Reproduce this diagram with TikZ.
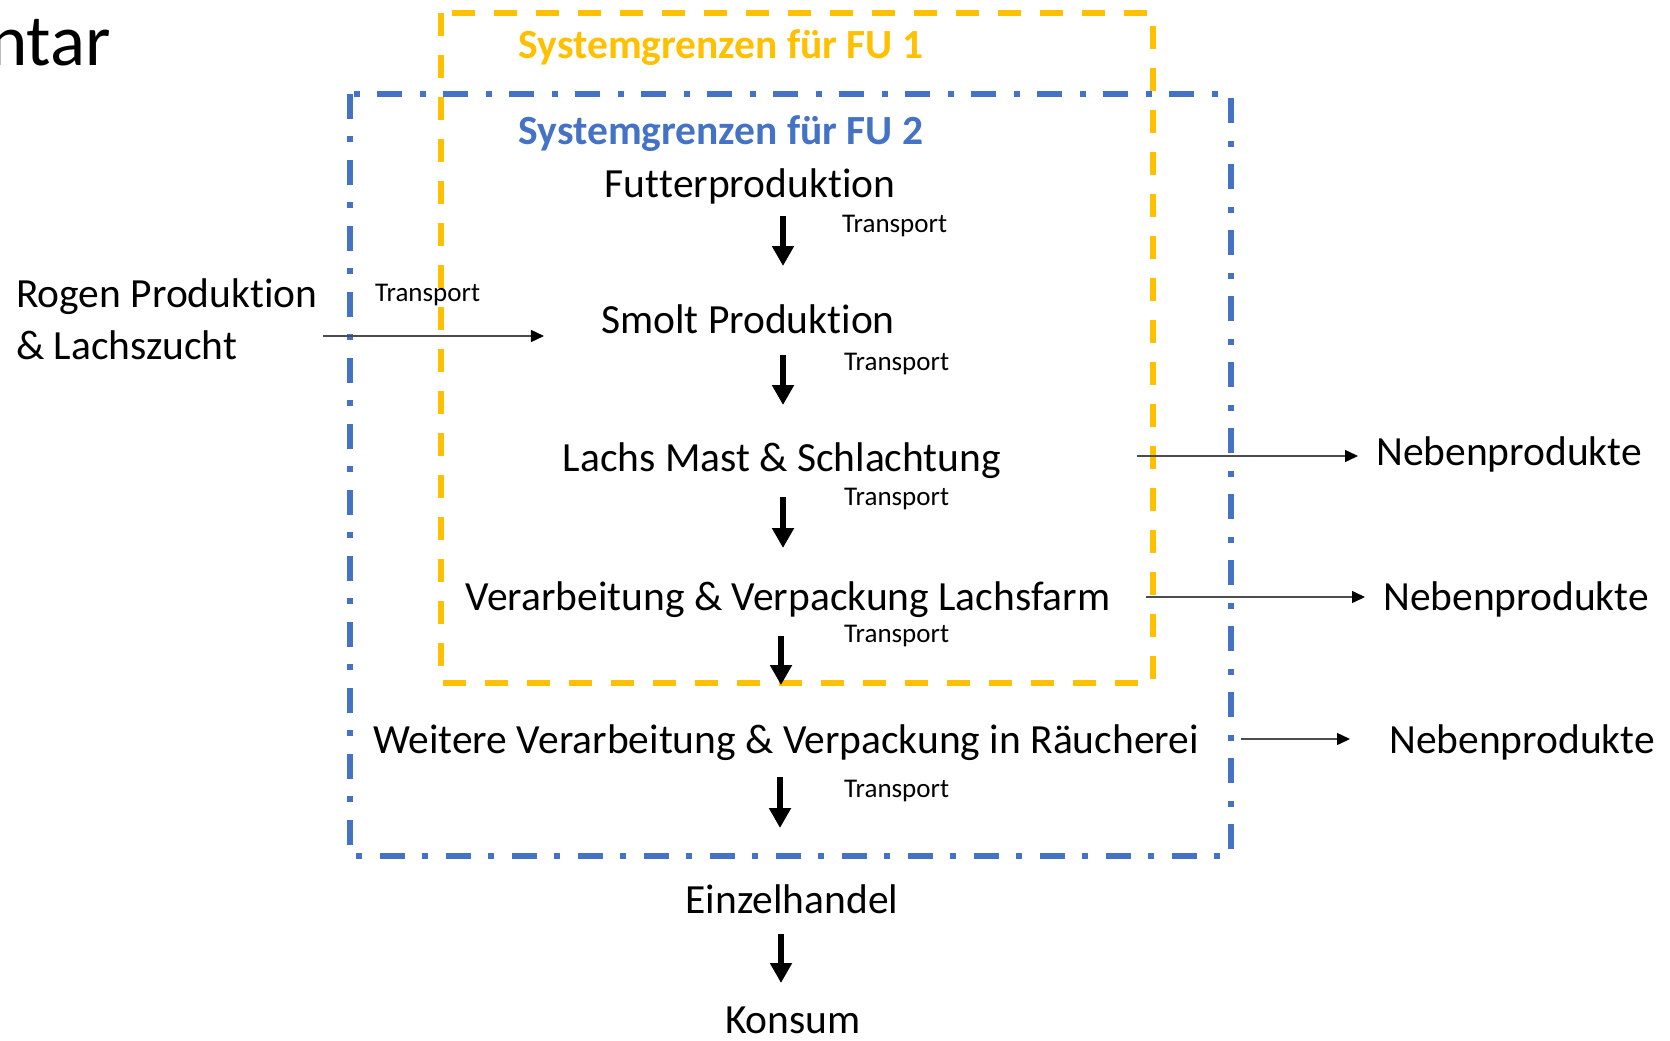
\documentclass[tikz,border=0pt]{standalone}
\usepackage{fontspec}
\setmainfont{Carlito}[Ligatures={NoCommon,NoContextual,NoRequired},Contextuals=NoAlternate]
\usetikzlibrary{arrows.meta}
\definecolor{fuyellow}{HTML}{FFC000}
\definecolor{fublue}{HTML}{4472C4}
\begin{document}
\begin{tikzpicture}[x=1pt,y=-1pt,
  main/.style={font=\fontsize{41.5}{50}\selectfont, inner sep=0pt, anchor=base},
  small/.style={font=\fontsize{27}{32}\selectfont, inner sep=0pt, anchor=base west},
  title/.style={font=\bfseries\fontsize{41.5}{50}\selectfont, inner sep=0pt, anchor=base},
  bigarrow/.style={line width=6.5pt, -{Triangle[length=20pt,width=21pt]}},
  thinarrow/.style={line width=1.4pt, black!70, -{Triangle[length=13pt,width=12pt,color=black]}},
  fuone/.style={draw=fuyellow, line width=5.5pt, dash pattern=on 23pt off 19pt},
  futwo/.style={draw=fublue, line width=6pt, dash pattern=on 25pt off 17pt on 6pt off 18pt}]
\useasboundingbox (0,0) rectangle (1670,1041);

% system boundaries
\draw[futwo] (350,94) rectangle (1231,856);
\draw[fuone] (441,13) rectangle (1153,683);

% title fragment
\node[main, anchor=base east, font=\fontsize{73}{80}\selectfont] (pagetitle) at (111,66) {ntar};

\node[title, text=fuyellow] (fuonet) at (721,59) {Systemgrenzen für FU 1};
\node[title, text=fublue] (futwot) at (721,144) {Systemgrenzen für FU 2};

% process steps
\node[main] (futter) at (750,197) {Fut\kern0ptter\kern0ptproduk\kern0ptt\kern0ption};
\node[main] (smolt) at (748,333) {Smolt Produk\kern0ptt\kern0ption};
\node[main] (mast) at (782,471) {Lachs Mast \& Schlachtung};
\node[main] (verarb) at (788,610) {Verarbeitung \& Verpackung Lachsfarm};
\node[main] (weiter) at (786,753) {Weitere Verarbeitung \& Verpackung in Räucherei};
\node[main] (einzel) at (792,913) {Einzelhandel};
\node[main] (konsum) at (793,1033) {Konsum};

\node[main, anchor=base west] (rogenA) at (16,307) {Rogen Produk\kern0ptt\kern0ption};
\node[main, anchor=base west] (rogenB) at (16,359) {\& Lachszucht};

\node[main, anchor=base west] (nebA) at (1376,465) {Nebenprodukte};
\node[main, anchor=base west] (nebB) at (1383,610) {Nebenprodukte};
\node[main, anchor=base west] (nebC) at (1389,753) {Nebenprodukte};

% transport labels
\node[small] (tA) at (842,232) {Transport};
\node[small] (tB) at (844,370) {Transport};
\node[small] (tC) at (844,505) {Transport};
\node[small] (tD) at (844,642) {Transport};
\node[small] (tE) at (844,797) {Transport};
\node[small] (tR) at (375,301) {Transport};

% big arrows
\coordinate (aAs) at (783,216); \coordinate (aAe) at (783,266);
\coordinate (aBs) at (783,355); \coordinate (aBe) at (783,405);
\coordinate (aCs) at (783,497); \coordinate (aCe) at (783,548);
\coordinate (aDs) at (781,636); \coordinate (aDe) at (781,685);
\coordinate (aEs) at (780,777); \coordinate (aEe) at (780,828);
\coordinate (aFs) at (781,934); \coordinate (aFe) at (781,983);
\draw[bigarrow] (aAs) -- (aAe);
\draw[bigarrow] (aBs) -- (aBe);
\draw[bigarrow] (aCs) -- (aCe);
\draw[bigarrow] (aDs) -- (aDe);
\draw[bigarrow] (aEs) -- (aEe);
\draw[bigarrow] (aFs) -- (aFe);

% thin arrows
\coordinate (rS) at (323,336);
\draw[thinarrow, shorten >=57pt] (rS) -- (rS -| smolt.west);
\coordinate (nAs) at (1137,456);
\draw[thinarrow, shorten >=18pt] (nAs) -- (nAs -| nebA.west);
\coordinate (nBs) at (1146,597);
\draw[thinarrow, shorten >=18pt] (nBs) -- (nBs -| nebB.west);
\coordinate (nCs) at (1241,739);
\draw[thinarrow, shorten >=39pt] (nCs) -- (nCs -| nebC.west);
\end{tikzpicture}
\end{document}
